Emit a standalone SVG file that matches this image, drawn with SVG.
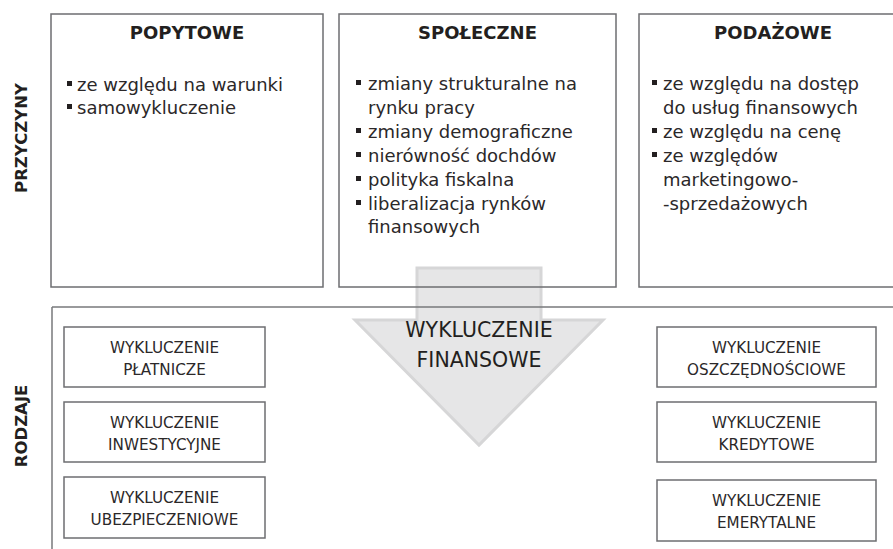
<svg xmlns="http://www.w3.org/2000/svg" width="893" height="549" viewBox="0 0 893 549">
  <style>
    .box { fill: none; stroke: #6d6e71; stroke-width: 1.5; }
    .rule { fill: none; stroke: #77787b; stroke-width: 1.5; }
    .title { font-family: "DejaVu Sans", "Liberation Sans", sans-serif; font-weight: bold; font-size: 18px; fill: #231f20; text-anchor: middle; }
    .side { font-family: "DejaVu Sans", "Liberation Sans", sans-serif; font-weight: bold; font-size: 16.5px; fill: #231f20; text-anchor: middle; }
    .item { font-family: "DejaVu Sans", "Liberation Sans", sans-serif; font-size: 18px; fill: #2b2829; }
    .lbl { font-family: "DejaVu Sans", "Liberation Sans", sans-serif; font-size: 15.2px; fill: #2b2829; text-anchor: middle; }
    .big { font-family: "DejaVu Sans", "Liberation Sans", sans-serif; font-size: 20.5px; fill: #231f20; text-anchor: middle; }
    .dot { fill: #231f20; }
  </style>
  <rect width="893" height="549" fill="#ffffff"/>

  <!-- large downward arrow behind everything -->
  <g id="arrow">
    <polygon points="417,268 541,268 541,320 603,320 479,445 355,320 417,320" fill="#e6e6e7" stroke="#d6d6d7" stroke-width="3" stroke-linejoin="miter"/>
    <text class="big" x="479" y="337">WYKLUCZENIE</text>
    <text class="big" x="479" y="367">FINANSOWE</text>
  </g>

  <!-- section rules -->
  <g id="connectors">
    <line class="rule" x1="52" y1="307" x2="893" y2="307"/>
    <line class="rule" x1="52" y1="307" x2="52" y2="549"/>
  </g>

  <!-- side labels -->
  <g id="label-przyczyny">
    <text class="side" transform="translate(27,138) rotate(-90)">PRZYCZYNY</text>
  </g>
  <g id="label-rodzaje">
    <text class="side" transform="translate(27,426) rotate(-90)">RODZAJE</text>
  </g>

  <!-- causes -->
  <g id="popytowe">
    <rect class="box" x="51" y="14" width="272" height="273"/>
    <text class="title" x="187" y="39">POPYTOWE</text>
    <rect class="dot" x="67" y="81" width="5" height="5"/>
    <text class="item" x="77" y="91">ze względu na warunki</text>
    <rect class="dot" x="67" y="104" width="5" height="5"/>
    <text class="item" x="77" y="114">samowykluczenie</text>
  </g>

  <g id="spoleczne">
    <rect class="box" x="339" y="14" width="277" height="273"/>
    <text class="title" x="477.5" y="39">SPOŁECZNE</text>
    <rect class="dot" x="356" y="80" width="5" height="5"/>
    <text class="item" x="368" y="90">zmiany strukturalne na</text>
    <text class="item" x="368" y="114">rynku pracy</text>
    <rect class="dot" x="356" y="128" width="5" height="5"/>
    <text class="item" x="368" y="138">zmiany demograficzne</text>
    <rect class="dot" x="356" y="152" width="5" height="5"/>
    <text class="item" x="368" y="162">nierówność dochdów</text>
    <rect class="dot" x="356" y="176" width="5" height="5"/>
    <text class="item" x="368" y="186">polityka fiskalna</text>
    <rect class="dot" x="356" y="200" width="5" height="5"/>
    <text class="item" x="368" y="210">liberalizacja rynków</text>
    <text class="item" x="368" y="233">finansowych</text>
  </g>

  <g id="podazowe">
    <rect class="box" x="639" y="14" width="268" height="273"/>
    <text class="title" x="773" y="39">PODAŻOWE</text>
    <rect class="dot" x="652" y="80" width="5" height="5"/>
    <text class="item" x="663" y="90">ze względu na dostęp</text>
    <text class="item" x="663" y="114">do usług finansowych</text>
    <rect class="dot" x="652" y="128" width="5" height="5"/>
    <text class="item" x="663" y="138">ze względu na cenę</text>
    <rect class="dot" x="652" y="152" width="5" height="5"/>
    <text class="item" x="663" y="162">ze względów</text>
    <text class="item" x="663" y="186">marketingowo-</text>
    <text class="item" x="663" y="210">-sprzedażowych</text>
  </g>

  <!-- kinds of exclusion -->
  <g id="platnicze">
    <rect class="box" x="64" y="327" width="201" height="60"/>
    <text class="lbl" x="164.5" y="353">WYKLUCZENIE</text>
    <text class="lbl" x="164.5" y="375">PŁATNICZE</text>
  </g>
  <g id="inwestycyjne">
    <rect class="box" x="64" y="402" width="201" height="60"/>
    <text class="lbl" x="164.5" y="428">WYKLUCZENIE</text>
    <text class="lbl" x="164.5" y="450">INWESTYCYJNE</text>
  </g>
  <g id="ubezpieczeniowe">
    <rect class="box" x="64" y="477" width="201" height="61"/>
    <text class="lbl" x="164.5" y="503">WYKLUCZENIE</text>
    <text class="lbl" x="164.5" y="525">UBEZPIECZENIOWE</text>
  </g>
  <g id="oszczednosciowe">
    <rect class="box" x="657" y="327" width="219" height="60"/>
    <text class="lbl" x="766.5" y="353">WYKLUCZENIE</text>
    <text class="lbl" x="766.5" y="375">OSZCZĘDNOŚCIOWE</text>
  </g>
  <g id="kredytowe">
    <rect class="box" x="657" y="402" width="219" height="60"/>
    <text class="lbl" x="766.5" y="428">WYKLUCZENIE</text>
    <text class="lbl" x="766.5" y="450">KREDYTOWE</text>
  </g>
  <g id="emerytalne">
    <rect class="box" x="657" y="480" width="219" height="61"/>
    <text class="lbl" x="766.5" y="506">WYKLUCZENIE</text>
    <text class="lbl" x="766.5" y="528">EMERYTALNE</text>
  </g>
</svg>
